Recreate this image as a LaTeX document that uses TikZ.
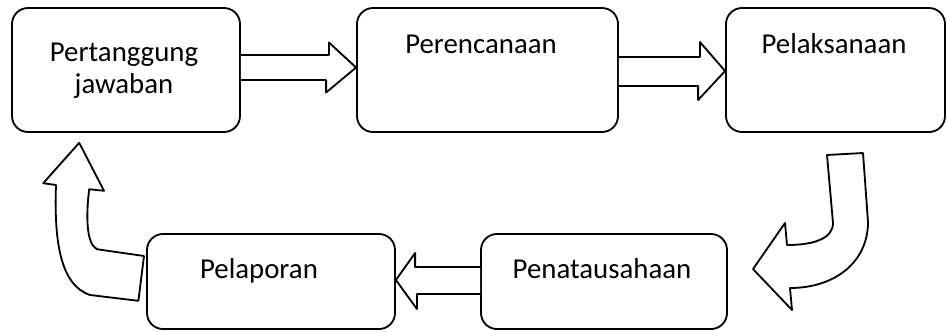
\documentclass[tikz,border=0pt]{standalone}
\usepackage{fontspec}
\setmainfont{Carlito}
\usepackage{tikz}
\usetikzlibrary{calc}

\begin{document}
\begin{tikzpicture}[line join=round,
    box/.style={draw, line width=1.3pt, rounded corners=0.4cm, inner sep=0pt},
    lbl/.style={anchor=base, align=center, font=\fontsize{20.5}{22.5}\selectfont},
    blk/.style={draw, line width=1.3pt, fill=white}]
      \useasboundingbox (0,0) rectangle (23.675,-8.275);

      % top row
      \node (b1) [box, minimum width=5.7cm, minimum height=3.1cm] at (3.15,-1.75) {};
      \node (b2) [box, minimum width=6.525cm, minimum height=3.1cm] at (12.1875,-1.75) {};
      \node (b3) [box, minimum width=5.475cm, minimum height=3.1cm] at (20.8875,-1.75) {};

      % bottom row
      \node (b4) [box, minimum width=6.2cm, minimum height=2.375cm] at (6.775,-7.0375) {};
      \node (b5) [box, minimum width=6.15cm, minimum height=2.375cm] at (15.1,-7.0375) {};

      \node (t1) [lbl] at (3.1,-2.325) {Pertanggung\\jawaban};
      \node (t2) [lbl] at (12.025,-1.335) {Perencanaan};
      \node (t3) [lbl] at (20.85,-1.335) {Pelaksanaan};
      \node (t4) [lbl] at (6.475,-6.96) {Pelaporan};
      \node (t5) [lbl] at (15.05,-6.96) {Penatausahaan};

      % block arrows
      \draw[blk] ($(b1.east)+(0,0.375)$) -- ++(2.2,0) -- ++(0,0.3125)
        -- ($(b2.west)+(0,0.0625)$) -- ++(-0.75,-0.625) -- ++(0,0.3125)
        -- ($(b1.east)+(0,-0.25)$);
      \draw[blk] ($(b2.east)+(0,0.325)$) -- ++(2.025,0) -- ++(0,0.375)
        -- ($(b3.west)+(0,-0.025)$) -- ++(-0.675,-0.725) -- ++(0,0.35)
        -- ($(b2.east)+(0,-0.4)$);
      \draw[blk] ($(b5.west)+(0,0.3625)$) -- ++(-1.625,0) -- ++(0,0.35)
        -- ($(b4.east)+(0,0.0375)$) -- ++(0.525,-0.725) -- ++(0,0.375)
        -- ($(b5.west)+(0,-0.3125)$);

      % curved arrows
      \draw[blk] (20.675,-3.875) -- (21.575,-3.825) -- (21.7,-5.55)
        .. controls (21.7,-6.55) and (20.875,-7.2) .. (19.75,-7.2)
        -- (19.8,-7.75) -- (18.825,-6.725) -- (19.625,-5.575) -- (19.675,-6.125)
        .. controls (20.375,-6.125) and (20.825,-5.95) .. (20.825,-5.575) -- cycle;
      \draw[blk] (1.98,-3.57) -- (1.08,-4.58) -- (1.4,-4.625)
        .. controls (1.35,-6.0) and (1.5,-7.125) .. (2.25,-7.375)
        -- (3.46,-7.52) -- (3.6,-6.4) -- (2.42,-6.23)
        .. controls (2.15,-6.075) and (2.15,-5.375) .. (2.23,-4.73)
        -- (2.6,-4.77) -- cycle;
    \end{tikzpicture}
\end{document}
